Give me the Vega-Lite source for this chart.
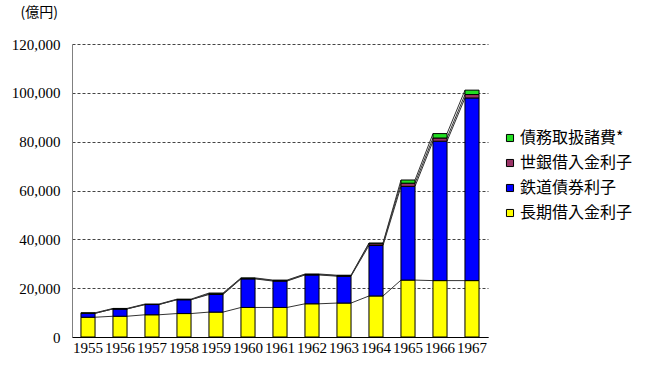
{
  "$schema": "https://vega.github.io/schema/vega-lite/v6.json",
  "autosize": "none",
  "padding": {"left": 72, "top": 44, "right": 159, "bottom": 33},
  "width": {"step": 32},
  "height": 293,
  "background": "white",
  "config": {"view": {"stroke": null}},
  "data": {"values": [
    {"year": 1955, "series": "長期借入金利子", "value": 8100},
    {"year": 1955, "series": "鉄道債券利子", "value": 1600},
    {"year": 1955, "series": "世銀借入金利子", "value": 0},
    {"year": 1955, "series": "債務取扱諸費*", "value": 200},
    {"year": 1956, "series": "長期借入金利子", "value": 8500},
    {"year": 1956, "series": "鉄道債券利子", "value": 3000},
    {"year": 1956, "series": "世銀借入金利子", "value": 0},
    {"year": 1956, "series": "債務取扱諸費*", "value": 200},
    {"year": 1957, "series": "長期借入金利子", "value": 9100},
    {"year": 1957, "series": "鉄道債券利子", "value": 4200},
    {"year": 1957, "series": "世銀借入金利子", "value": 0},
    {"year": 1957, "series": "債務取扱諸費*", "value": 200},
    {"year": 1958, "series": "長期借入金利子", "value": 9600},
    {"year": 1958, "series": "鉄道債券利子", "value": 5700},
    {"year": 1958, "series": "世銀借入金利子", "value": 0},
    {"year": 1958, "series": "債務取扱諸費*", "value": 200},
    {"year": 1959, "series": "長期借入金利子", "value": 10200},
    {"year": 1959, "series": "鉄道債券利子", "value": 7200},
    {"year": 1959, "series": "世銀借入金利子", "value": 300},
    {"year": 1959, "series": "債務取扱諸費*", "value": 300},
    {"year": 1960, "series": "長期借入金利子", "value": 12100},
    {"year": 1960, "series": "鉄道債券利子", "value": 11700},
    {"year": 1960, "series": "世銀借入金利子", "value": 200},
    {"year": 1960, "series": "債務取扱諸費*", "value": 200},
    {"year": 1961, "series": "長期借入金利子", "value": 12100},
    {"year": 1961, "series": "鉄道債券利子", "value": 10800},
    {"year": 1961, "series": "世銀借入金利子", "value": 200},
    {"year": 1961, "series": "債務取扱諸費*", "value": 200},
    {"year": 1962, "series": "長期借入金利子", "value": 13600},
    {"year": 1962, "series": "鉄道債券利子", "value": 11800},
    {"year": 1962, "series": "世銀借入金利子", "value": 200},
    {"year": 1962, "series": "債務取扱諸費*", "value": 200},
    {"year": 1963, "series": "長期借入金利子", "value": 13900},
    {"year": 1963, "series": "鉄道債券利子", "value": 11000},
    {"year": 1963, "series": "世銀借入金利子", "value": 200},
    {"year": 1963, "series": "債務取扱諸費*", "value": 200},
    {"year": 1964, "series": "長期借入金利子", "value": 16800},
    {"year": 1964, "series": "鉄道債券利子", "value": 20700},
    {"year": 1964, "series": "世銀借入金利子", "value": 700},
    {"year": 1964, "series": "債務取扱諸費*", "value": 300},
    {"year": 1965, "series": "長期借入金利子", "value": 23300},
    {"year": 1965, "series": "鉄道債券利子", "value": 38400},
    {"year": 1965, "series": "世銀借入金利子", "value": 1300},
    {"year": 1965, "series": "債務取扱諸費*", "value": 1300},
    {"year": 1966, "series": "長期借入金利子", "value": 23100},
    {"year": 1966, "series": "鉄道債券利子", "value": 57100},
    {"year": 1966, "series": "世銀借入金利子", "value": 1300},
    {"year": 1966, "series": "債務取扱諸費*", "value": 1800},
    {"year": 1967, "series": "長期借入金利子", "value": 23100},
    {"year": 1967, "series": "鉄道債券利子", "value": 74800},
    {"year": 1967, "series": "世銀借入金利子", "value": 1400},
    {"year": 1967, "series": "債務取扱諸費*", "value": 1800}
  ]},
  "transform": [
    {"window": [{"op": "row_number", "as": "rank"}], "groupby": ["year"]},
    {"stack": "value", "groupby": ["year"], "sort": [{"field": "rank", "order": "ascending"}], "as": ["v0", "v1"]}
  ],
  "layer": [
    {
      "transform": [
        {"window": [{"op": "lead", "field": "year", "as": "nx"}, {"op": "lead", "field": "v1", "as": "nv1"}], "groupby": ["series"], "sort": [{"field": "year", "order": "ascending"}]},
        {"filter": "datum.nx != null"}
      ],
      "mark": {"type": "rule", "color": "#333333", "strokeWidth": 1, "xOffset": 7, "x2Offset": -7},
      "encoding": {
        "x": {"field": "year", "type": "ordinal"},
        "x2": {"field": "nx"},
        "y": {"field": "v1", "type": "quantitative"},
        "y2": {"field": "nv1"}
      }
    },
    {
      "mark": {"type": "bar", "stroke": "black", "strokeWidth": 1},
      "encoding": {
        "x": {
          "field": "year", "type": "ordinal",
          "scale": {"type": "band", "paddingInner": 0.56, "paddingOuter": 0.28},
          "axis": {
            "title": null, "labelAngle": 0, "ticks": false, "bandPosition": 0.5,
            "labelAlign": "center",
            "domainColor": "black", "domainWidth": 1,
            "labelFont": "serif", "labelFontSize": 15, "labelColor": "black",
            "labelPadding": 10
          }
        },
        "y": {
          "field": "v0", "type": "quantitative",
          "scale": {"domain": [0, 120000], "nice": false},
          "axis": {
            "values": [0, 20000, 40000, 60000, 80000, 100000, 120000],
            "format": ",d",
            "title": "(億円)", "titleAngle": 0, "titleAlign": "left", "titleBaseline": "middle",
            "titleX": -52, "titleY": -32, "titleFont": "Noto Sans CJK JP", "titleFontSize": 14, "titleFontWeight": "normal", "titleColor": "black",
            "ticks": false, "labelPadding": 12,
            "labelFont": "serif", "labelFontSize": 15, "labelColor": "black",
            "domainColor": "#808080", "domainWidth": 1,
            "grid": true, "gridColor": "#444444", "gridDash": [3, 2], "gridWidth": 1
          }
        },
        "y2": {"field": "v1"},
        "color": {
          "field": "series", "type": "nominal",
          "scale": {
            "domain": ["債務取扱諸費*", "世銀借入金利子", "鉄道債券利子", "長期借入金利子"],
            "range": ["#22DD22", "#993366", "#0000FF", "#FFFF00"]
          },
          "legend": {
            "title": null, "orient": "none", "legendX": 430, "legendY": 86,
            "symbolType": "square", "symbolSize": 50, "symbolStrokeColor": "black", "symbolStrokeWidth": 1, "symbolOpacity": 1,
            "labelFont": "Noto Sans CJK JP", "labelFontSize": 16, "labelColor": "black", "labelOffset": 2,
            "rowPadding": 9
          }
        }
      }
    }
  ]
}
